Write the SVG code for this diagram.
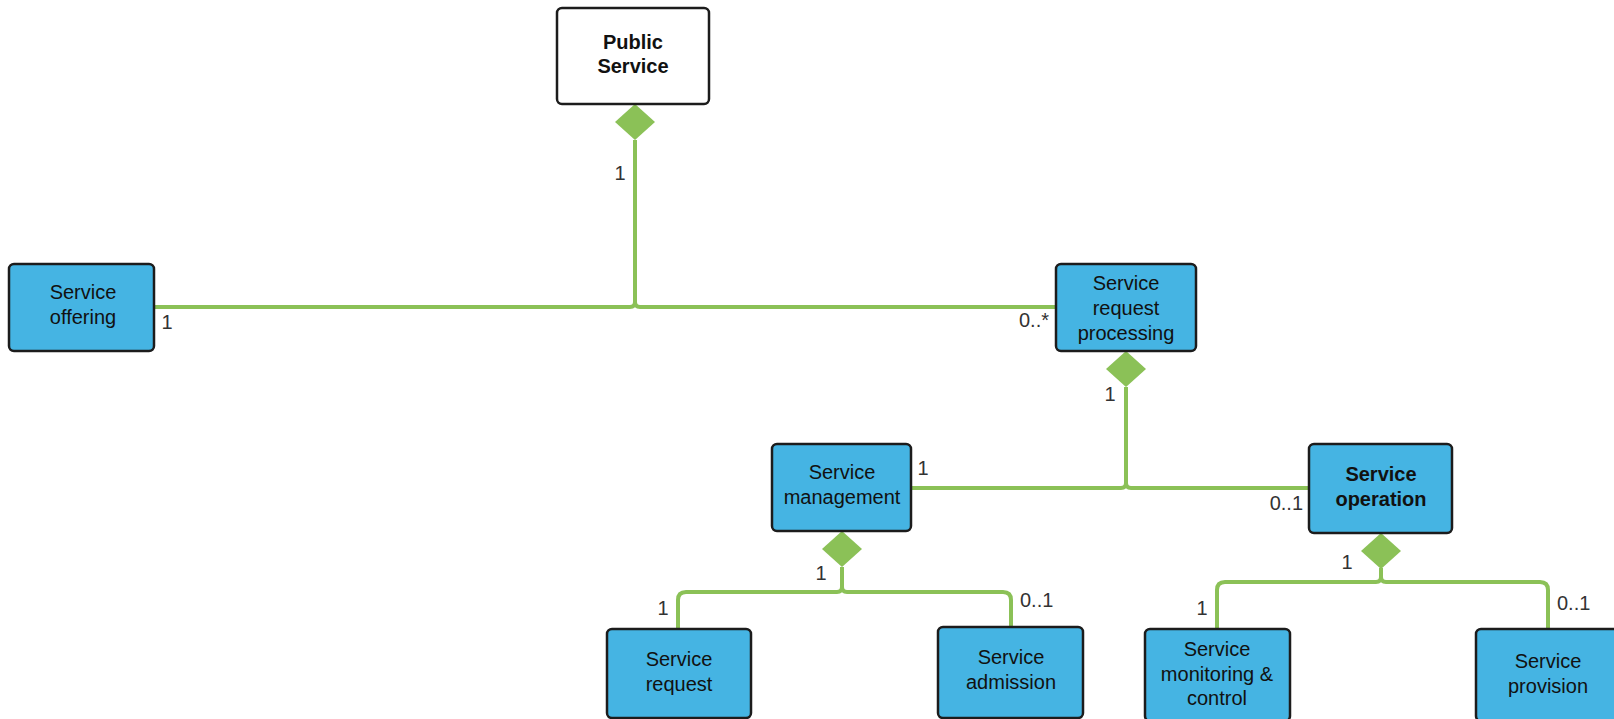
<svg xmlns="http://www.w3.org/2000/svg" width="1614" height="719" viewBox="0 0 1614 719">
<style>
.box{fill:#45b4e3;stroke:#1c1c1c;stroke-width:2.5}
.white{fill:#ffffff}
.t{font-family:"Liberation Sans",Arial,sans-serif;font-size:20px;fill:#111;text-anchor:middle}
.b{font-weight:bold}
.lbl{font-family:"Liberation Sans",Arial,sans-serif;font-size:20px;fill:#333}
.c{fill:none;stroke:#8bc157;stroke-width:4;stroke-linejoin:round}
.d{fill:#8bc157}
</style>
<rect width="1614" height="719" fill="#ffffff"/>
<g id="connectors">
<path class="c" d="M154 307 H630 Q635 307 635 302 V140"/>
<path class="c" d="M1056 307 H640 Q635 307 635 302"/>
<polygon class="d" points="635,104 655,122 635,140 615,122"/>
<path class="c" d="M911 488 H1121 Q1126 488 1126 483 V387"/>
<path class="c" d="M1309 488 H1131 Q1126 488 1126 483"/>
<polygon class="d" points="1126,351 1146,369 1126,387 1106,369"/>
<path class="c" d="M678 629 V600 Q678 592 686 592 H837 Q842 592 842 587 V567"/>
<path class="c" d="M1011 627 V600 Q1011 592 1003 592 H847 Q842 592 842 587"/>
<polygon class="d" points="842,531 862,549 842,567 822,549"/>
<path class="c" d="M1217 629 V590 Q1217 582 1225 582 H1376 Q1381 582 1381 577 V568"/>
<path class="c" d="M1548 629 V590 Q1548 582 1540 582 H1386 Q1381 582 1381 577"/>
<polygon class="d" points="1381,533 1401,551 1381,569 1361,551"/>
<text class="lbl" x="620" y="180" text-anchor="middle">1</text>
<text class="lbl" x="167" y="329" text-anchor="middle">1</text>
<text class="lbl" x="1049" y="327" text-anchor="end">0..*</text>
<text class="lbl" x="1110" y="401" text-anchor="middle">1</text>
<text class="lbl" x="923" y="475" text-anchor="middle">1</text>
<text class="lbl" x="1303" y="510" text-anchor="end">0..1</text>
<text class="lbl" x="821" y="580" text-anchor="middle">1</text>
<text class="lbl" x="663" y="615" text-anchor="middle">1</text>
<text class="lbl" x="1020" y="607">0..1</text>
<text class="lbl" x="1347" y="569" text-anchor="middle">1</text>
<text class="lbl" x="1202" y="615" text-anchor="middle">1</text>
<text class="lbl" x="1557" y="610">0..1</text>
</g>
<g id="public-service">
<rect class="box white" x="557" y="8" width="152" height="96" rx="5"/>
<text class="t b" x="633" y="49">Public</text>
<text class="t b" x="633" y="73">Service</text>
</g>
<g id="service-offering">
<rect class="box" x="9" y="264" width="145" height="87" rx="5"/>
<text class="t" x="83" y="299">Service</text>
<text class="t" x="83" y="324">offering</text>
</g>
<g id="service-request-processing">
<rect class="box" x="1056" y="264" width="140" height="87" rx="5"/>
<text class="t" x="1126" y="290">Service</text>
<text class="t" x="1126" y="315">request</text>
<text class="t" x="1126" y="340">processing</text>
</g>
<g id="service-management">
<rect class="box" x="772" y="444" width="139" height="87" rx="5"/>
<text class="t" x="842" y="479">Service</text>
<text class="t" x="842" y="504">management</text>
</g>
<g id="service-operation">
<rect class="box" x="1309" y="444" width="143" height="89" rx="5"/>
<text class="t b" x="1381" y="481">Service</text>
<text class="t b" x="1381" y="506">operation</text>
</g>
<g id="service-request">
<rect class="box" x="607" y="629" width="144" height="89" rx="5"/>
<text class="t" x="679" y="666">Service</text>
<text class="t" x="679" y="691">request</text>
</g>
<g id="service-admission">
<rect class="box" x="938" y="627" width="145" height="91" rx="5"/>
<text class="t" x="1011" y="664">Service</text>
<text class="t" x="1011" y="689">admission</text>
</g>
<g id="service-monitoring-control">
<rect class="box" x="1145" y="629" width="145" height="92" rx="5"/>
<text class="t" x="1217" y="656">Service</text>
<text class="t" x="1217" y="681">monitoring &amp;</text>
<text class="t" x="1217" y="705">control</text>
</g>
<g id="service-provision">
<rect class="box" x="1476" y="629" width="146" height="92" rx="5"/>
<text class="t" x="1548" y="668">Service</text>
<text class="t" x="1548" y="693">provision</text>
</g>
</svg>
